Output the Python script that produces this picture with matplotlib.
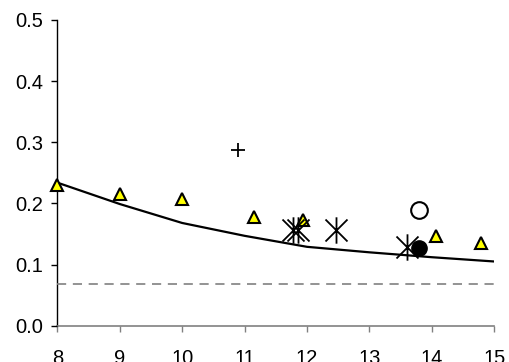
import matplotlib.pyplot as plt
from matplotlib.path import Path

plt.rcParams['font.family'] = ['Liberation Sans', 'DejaVu Sans']

# model curve
curve_x = [8, 9, 10, 11, 12, 13, 14, 15]
curve_y = [0.234, 0.199, 0.168, 0.147, 0.129, 0.120, 0.112, 0.105]

limit_y = 0.068

# measured points
tri_x = [8.0, 9.0, 10.0, 11.15, 11.94, 14.06, 14.78]
tri_y = [0.230, 0.215, 0.207, 0.178, 0.173, 0.146, 0.136]

plus_x = [10.89]
plus_y = [0.287]

star_x = [11.78, 11.86, 12.47, 13.60]
star_y = [0.157, 0.157, 0.157, 0.128]

dot_x = [13.79]
dot_y = [0.127]

ring_x = [13.79]
ring_y = [0.189]

# asterisk: X crossed with a vertical bar
star = Path([(-0.5, -0.5), (0.5, 0.5), (-0.5, 0.5), (0.5, -0.5), (0, -0.6), (0, 0.6)],
            [Path.MOVETO, Path.LINETO, Path.MOVETO, Path.LINETO, Path.MOVETO, Path.LINETO])

fig = plt.figure(figsize=(5.09, 3.62), dpi=100)
ax = fig.add_axes([0.1126, 0.1003, 0.8585, 0.8445])

ax.plot(curve_x, curve_y, color='black', lw=1.6, zorder=2)
ax.axhline(limit_y, color='#808080', lw=1.2, dashes=(5.5, 4), zorder=1)

ax.plot(tri_x, tri_y, ls='none', marker='^', ms=8.5, mfc='#ffff00', mec='black', mew=1.5,
        zorder=3, clip_on=False)
ax.plot(plus_x, plus_y, ls='none', marker='+', ms=10, mec='black', mew=1.3, zorder=3)
ax.plot(star_x, star_y, ls='none', marker=star, ms=19, mec='black', mew=1.3, zorder=3)
ax.plot(dot_x, dot_y, ls='none', marker='o', ms=11, mfc='black', mec='black', zorder=4)
ax.plot(ring_x, ring_y, ls='none', marker='o', ms=12, mfc='white', mec='black', mew=1.5, zorder=3)

ax.set_xlim(8, 15)
ax.set_ylim(0, 0.5)
ax.set_xticks(range(8, 16))
ax.set_yticks([0, 0.1, 0.2, 0.3, 0.4, 0.5])
ax.set_yticklabels(['0.0', '0.1', '0.2', '0.3', '0.4', '0.5'])

ax.spines['top'].set_visible(False)
ax.spines['right'].set_visible(False)
ax.spines['left'].set_color('black')
ax.spines['bottom'].set_color('#808080')
ax.spines['left'].set_linewidth(1.0)
ax.spines['bottom'].set_linewidth(1.2)
ax.tick_params(axis='y', length=4, width=1, color='black', pad=6, labelsize=14.5)
ax.tick_params(axis='x', length=4, width=1, color='#808080', pad=13, labelsize=14.5)
for side in ['left', 'bottom']:
    ax.spines[side].set_zorder(0)
ax.patch.set_alpha(0)

fig.savefig('out.png', dpi=100)
